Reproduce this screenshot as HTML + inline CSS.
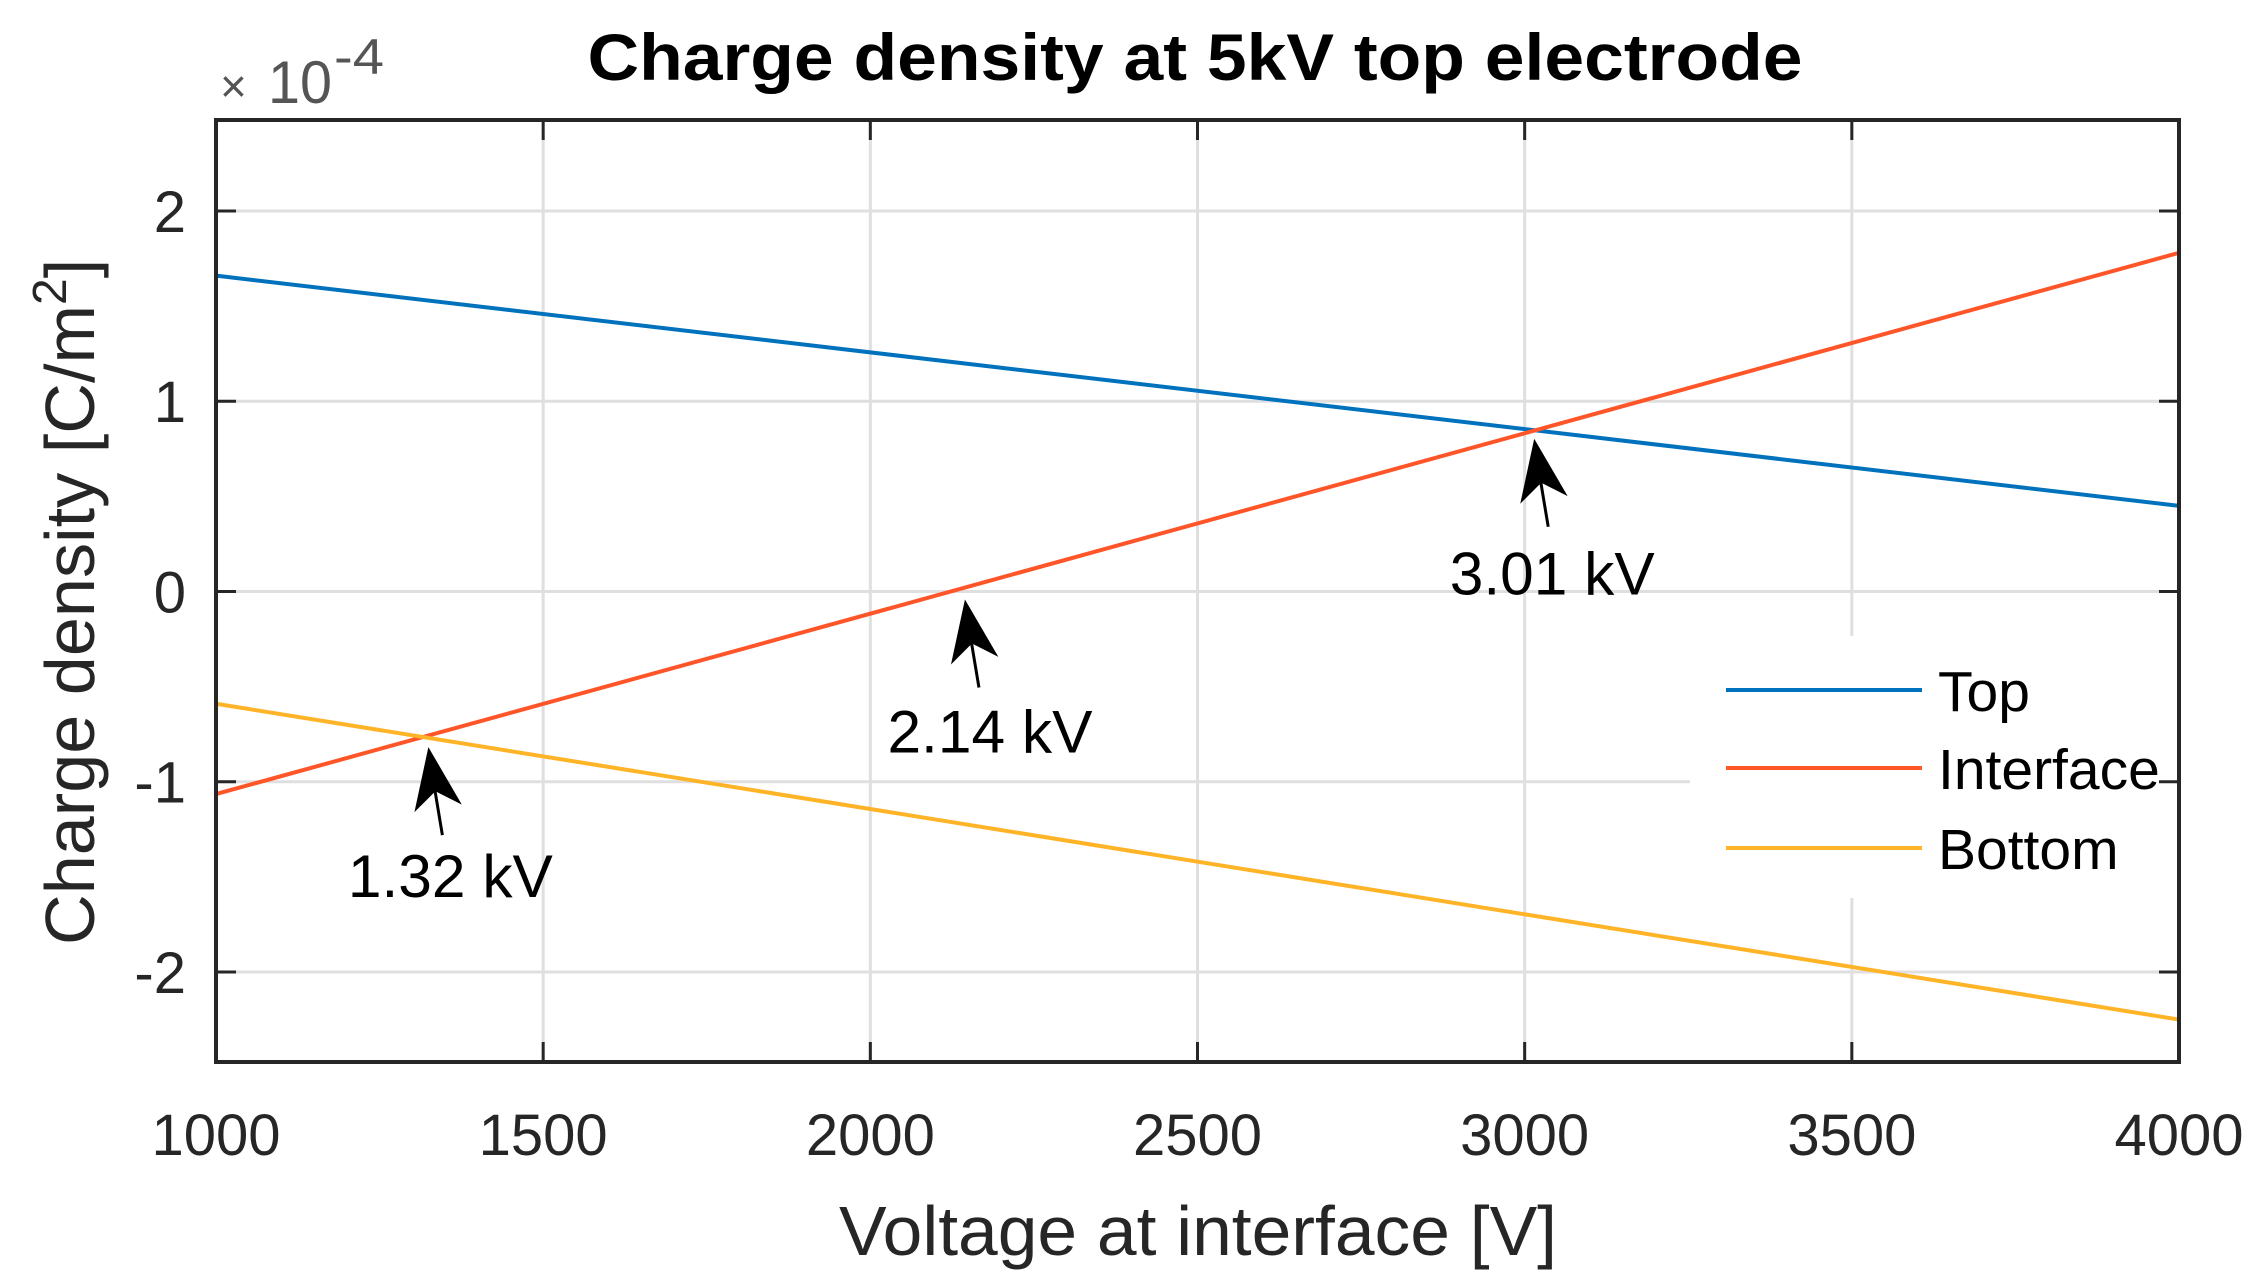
<!DOCTYPE html>
<html><head><meta charset="utf-8"><style>
html,body{margin:0;padding:0;background:#fff;}
svg{display:block;font-family:"Liberation Sans",Arial,sans-serif;}
</style></head><body>
<svg id="chart" width="2257" height="1286" viewBox="0 0 2257 1286" xmlns="http://www.w3.org/2000/svg">
<rect width="2257" height="1286" fill="#fff"/>
<g id="grid"></g>
<g id="series"></g>
<g id="legend-bg-g"><rect x="1690" y="636" width="486" height="262" fill="#fff"/></g>
<g id="axes"></g>
<g id="annots"></g>
<text x="1195" y="80" font-size="66" font-weight="bold" text-anchor="middle" textLength="1215" lengthAdjust="spacingAndGlyphs" fill="#000">Charge density at 5kV top electrode</text>
<text x="1198" y="1255" font-size="70" text-anchor="middle" textLength="718" lengthAdjust="spacingAndGlyphs" fill="#262626">Voltage at interface [V]</text>
<text transform="translate(94,945) rotate(-90)" x="0" y="0" font-size="70" fill="#262626"><tspan textLength="640" lengthAdjust="spacingAndGlyphs">Charge density [C/m</tspan><tspan font-size="48" dy="-28">2</tspan><tspan dy="28">]</tspan></text>
<g fill="#555">
<text x="220" y="102" font-size="46">×</text>
<text x="268" y="103" font-size="60" textLength="64" lengthAdjust="spacingAndGlyphs">10</text>
<text x="334" y="74" font-size="50" textLength="50" lengthAdjust="spacingAndGlyphs">-4</text>
</g>
<g id="legend"></g>
</svg>
<script>
const categories = [1000, 4000];
const topValues = [1.66, 0.45];
const interfaceValues = [-1.065, 1.78];
const bottomValues = [-0.59, -2.25];
const xTicks = [1000, 1500, 2000, 2500, 3000, 3500, 4000];
const yTicks = [-2, -1, 0, 1, 2];
const seriesNames = ["Top", "Interface", "Bottom"];
const annotX = [1320, 2140, 3010];
const annotY = [-0.776, 0.0, 0.845];
const annotLabels = ["1.32 kV", "2.14 kV", "3.01 kV"];

const X0=216, X1=2179, Y0=1062, Y1=120;
const xmin=1000, xmax=4000, ymin=-2.473, ymax=2.478;
function sx(v){return X0+(v-xmin)/(xmax-xmin)*(X1-X0);}
function sy(v){return Y0-(v-ymin)/(ymax-ymin)*(Y0-Y1);}
const NS="http://www.w3.org/2000/svg";
function mk(tag,attrs,parent){const e=document.createElementNS(NS,tag);for(const k in attrs)e.setAttribute(k,attrs[k]);parent.appendChild(e);return e;}
const grid=document.getElementById('grid'), axes=document.getElementById('axes'), series=document.getElementById('series'), annots=document.getElementById('annots'), legend=document.getElementById('legend');

xTicks.forEach(t=>{
  const g=mk('line',{x1:sx(t),x2:sx(t),y1:Y1,y2:Y0,stroke:'#dfdfdf','stroke-width':3},grid);
  
  
  const tk=mk('line',{x1:sx(t),x2:sx(t),y1:Y0,y2:Y0-20,stroke:'#262626','stroke-width':3},axes);
  
  
  const tk2=mk('line',{x1:sx(t),x2:sx(t),y1:Y1,y2:Y1+20,stroke:'#262626','stroke-width':3},axes);
  
  
  const lb=mk('text',{x:sx(t),y:1155,'font-size':58,'text-anchor':'middle',fill:'#262626'},axes);
  lb.textContent=t;
  
  
});
yTicks.forEach(t=>{
  const g=mk('line',{x1:X0,x2:X1,y1:sy(t),y2:sy(t),stroke:'#dfdfdf','stroke-width':3},grid);
  
  
  const tk=mk('line',{x1:X0,x2:X0+20,y1:sy(t),y2:sy(t),stroke:'#262626','stroke-width':3},axes);
  
  
  const tk2=mk('line',{x1:X1-20,x2:X1,y1:sy(t),y2:sy(t),stroke:'#262626','stroke-width':3},axes);
  
  
  const lb=mk('text',{x:186,y:sy(t)+21,'font-size':58,'text-anchor':'end',fill:'#262626'},axes);
  lb.textContent=(t<0?'-':'')+Math.abs(t);
  
  
});
const box=mk('rect',{x:X0,y:Y1,width:X1-X0,height:Y0-Y1,fill:'none',stroke:'#262626','stroke-width':4},axes);



const colors=['#0072BD','#FF5528','#FFB428'];
const allVals=[topValues,interfaceValues,bottomValues];
allVals.forEach((vals,i)=>{
  const pts=categories.map((c,j)=>sx(c)+','+sy(vals[j])).join(' ');
  const pl=mk('polyline',{points:pts,fill:'none',stroke:colors[i],'stroke-width':4},series);
  
  
});

const legY=[690,768,848];
seriesNames.forEach((n,i)=>{
  const l=mk('line',{x1:1726,x2:1922,y1:legY[i],y2:legY[i],stroke:colors[i],'stroke-width':4},legend);
  
  
  const t=mk('text',{x:1938,y:legY[i]+21,'font-size':57,fill:'#000'},legend);
  t.textContent=n;
  
  
});

const labelOffsets=[[22,150],[25,153],[18,156]];
annotX.forEach((v,i)=>{
  const tx=sx(v)+3, ty=sy(annotY[i])+8;
  const ex=tx+14, ey=ty+88;
  const g=mk('g',{},annots);
  
  
  mk('line',{x1:ex,y1:ey,x2:tx+6,y2:ty+40,stroke:'#000','stroke-width':3},g);
  const ang=Math.atan2(ey-ty,ex-tx);
  const L=62,W=24;
  const bx=tx+L*Math.cos(ang), by=ty+L*Math.sin(ang);
  const px=-Math.sin(ang), py=Math.cos(ang);
  const nx=tx+L*0.72*Math.cos(ang), ny=ty+L*0.72*Math.sin(ang);
  mk('polygon',{points:`${tx},${ty} ${bx+px*W},${by+py*W} ${nx},${ny} ${bx-px*W},${by-py*W}`,fill:'#000'},g);
  const lb=mk('text',{x:tx+labelOffsets[i][0],y:ty+labelOffsets[i][1],'font-size':60,'text-anchor':'middle',fill:'#000',textLength:205,lengthAdjust:'spacingAndGlyphs'},annots);
  lb.textContent=annotLabels[i];
  
  
});
</script>
</body></html>
